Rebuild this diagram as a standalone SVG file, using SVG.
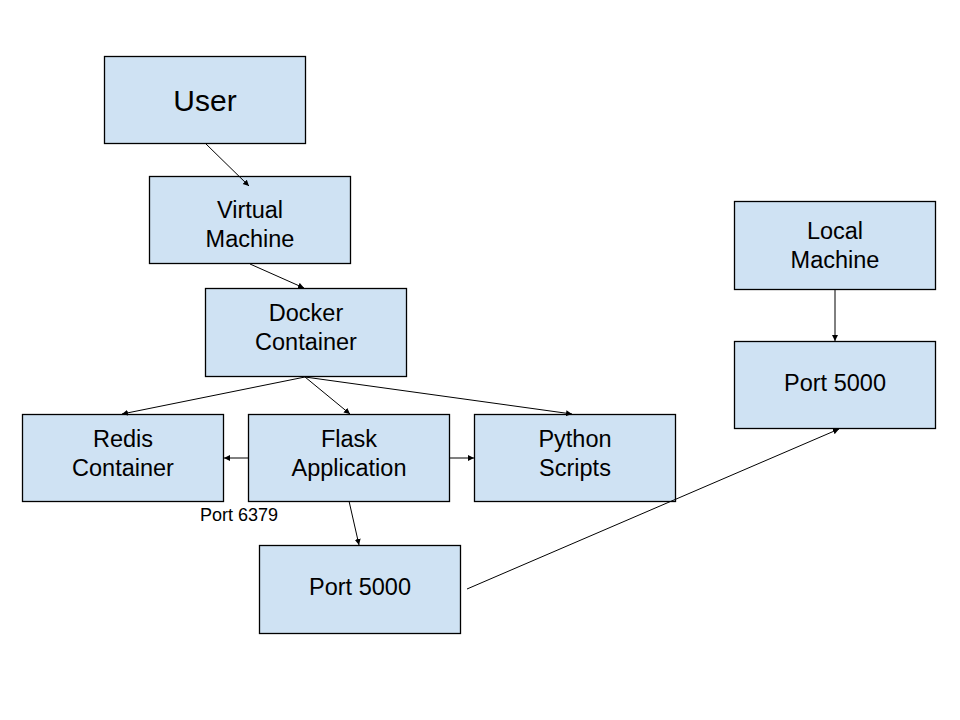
<svg xmlns="http://www.w3.org/2000/svg" width="960" height="720" viewBox="0 0 960 720">
<style>
.box{fill:#cfe2f3;stroke:#000;stroke-width:1.3}
.t{font-family:"Liberation Sans",Arial,sans-serif;fill:#000;text-anchor:middle}
.m{font-size:23.5px}
.c line{stroke:#000;stroke-width:1}
</style>
<defs>
<marker id="ah" markerUnits="userSpaceOnUse" markerWidth="8" markerHeight="8" refX="6" refY="3" orient="auto">
<path d="M0,0 L6,3 L0,6 Z" fill="#000"/>
</marker>
</defs>
<rect width="960" height="720" fill="#fff"/>
<g id="user"><rect class="box" x="104.5" y="56.5" width="201" height="87"/><text class="t" x="205" y="111" font-size="30">User</text></g>
<g id="vm"><rect class="box" x="149.5" y="176.5" width="201" height="87"/><text class="t m" x="250" y="218">Virtual</text><text class="t m" x="250" y="247">Machine</text></g>
<g id="docker"><rect class="box" x="205.5" y="288.5" width="201" height="88"/><text class="t m" x="306" y="321">Docker</text><text class="t m" x="306" y="350">Container</text></g>
<g id="redis"><rect class="box" x="22.5" y="414.5" width="201" height="87"/><text class="t m" x="123" y="447">Redis</text><text class="t m" x="123" y="476">Container</text></g>
<g id="flask"><rect class="box" x="248.5" y="414.5" width="201" height="87"/><text class="t m" x="349" y="447">Flask</text><text class="t m" x="349" y="476">Application</text></g>
<g id="python"><rect class="box" x="474.5" y="414.5" width="201" height="87"/><text class="t m" x="575" y="447">Python</text><text class="t m" x="575" y="476">Scripts</text></g>
<g id="port5000a"><rect class="box" x="259.5" y="545.5" width="201" height="88"/><text class="t m" x="360" y="595">Port 5000</text></g>
<g id="local"><rect class="box" x="734.5" y="201.5" width="201" height="88"/><text class="t m" x="835" y="239">Local</text><text class="t m" x="835" y="268">Machine</text></g>
<g id="port5000b"><rect class="box" x="734.5" y="341.5" width="201" height="87"/><text class="t m" x="835" y="391">Port 5000</text></g>
<g class="c" id="connectors">
<line x1="205" y1="143" x2="249" y2="186" marker-end="url(#ah)"/>
<line x1="250" y1="264" x2="304" y2="288" marker-end="url(#ah)"/>
<line x1="305" y1="377" x2="122" y2="414" marker-end="url(#ah)"/>
<line x1="305" y1="377" x2="350" y2="414" marker-end="url(#ah)"/>
<line x1="305" y1="377" x2="572" y2="414" marker-end="url(#ah)"/>
<line x1="248" y1="458" x2="224" y2="458" marker-end="url(#ah)"/>
<line x1="449" y1="458" x2="474" y2="458" marker-end="url(#ah)"/>
<line x1="349" y1="501" x2="359" y2="545" marker-end="url(#ah)"/>
<line x1="467" y1="589" x2="839" y2="429" marker-end="url(#ah)"/>
<line x1="835" y1="289" x2="835" y2="341" marker-end="url(#ah)"/>
</g>
<text class="t" x="239" y="521" font-size="18">Port 6379</text>
</svg>
